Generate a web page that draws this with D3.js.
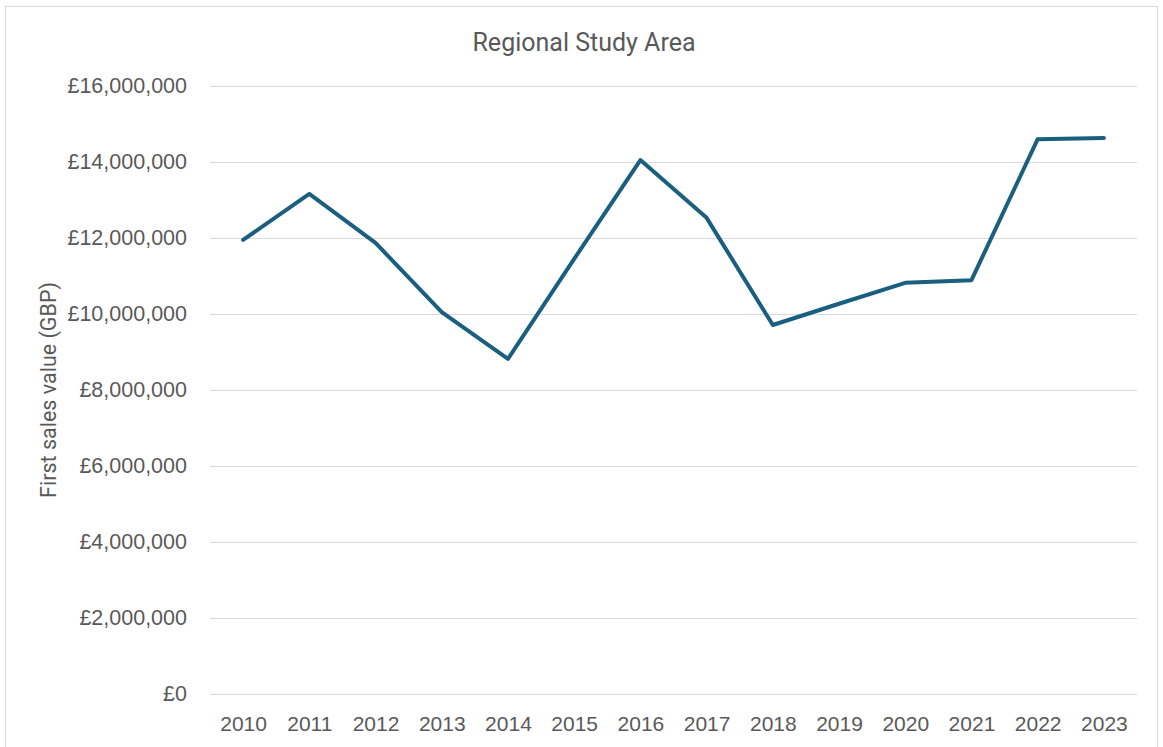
<!DOCTYPE html>
<html>
<head>
<meta charset="utf-8">
<script src="https://d3js.org/d3.v7.min.js"></script>
<style>
  html, body { margin: 0; padding: 0; background: #fff; }
  svg { display: block; font-family: "Roboto", sans-serif; }
</style>
</head>
<body>
<svg id="chart" width="1163" height="747"></svg>
<script>
  // data
  const years = ["2010", "2011", "2012", "2013", "2014", "2015", "2016",
                 "2017", "2018", "2019", "2020", "2021", "2022", "2023"];
  const firstSalesValue = [11950000, 13160000, 11870000, 10050000, 8820000, 11450000, 14050000,
                           12530000, 9710000, 10270000, 10820000, 10890000, 14600000, 14630000];
  const yTicks = [0, 2000000, 4000000, 6000000, 8000000, 10000000, 12000000, 14000000, 16000000];

  const svg = d3.select("#chart");
  const margin = { top: 86, right: 26, bottom: 53, left: 210 };
  const width = 1163, height = 747;

  // chart frame
  svg.append("rect")
    .attr("x", 5.5).attr("y", 6.5)
    .attr("width", 1152).attr("height", 760)
    .attr("fill", "#fff").attr("stroke", "#d9d9d9").attr("stroke-width", 1);

  const x = d3.scalePoint()
    .domain(years)
    .range([margin.left, width - margin.right])
    .padding(0.5);

  const y = d3.scaleLinear()
    .domain([0, 16000000])
    .range([height - margin.bottom, margin.top]);

  const gbp = d => "£" + d3.format(",")(d);

  // gridlines + y labels
  const yAxis = svg.append("g")
    .attr("transform", `translate(${margin.left},0)`)
    .call(d3.axisLeft(y).tickValues(yTicks).tickFormat(gbp)
      .tickSize(-(width - margin.left - margin.right)).tickPadding(23));
  yAxis.select(".domain").remove();
  yAxis.selectAll(".tick line").attr("stroke", "#d9d9d9").attr("stroke-width", 1);
  yAxis.selectAll(".tick text").attr("fill", "#595959").attr("font-size", 21.5);

  // x labels
  const xAxis = svg.append("g")
    .attr("transform", `translate(0,${height - margin.bottom})`)
    .call(d3.axisBottom(x).tickSize(0).tickPadding(22));
  xAxis.select(".domain").remove();
  xAxis.selectAll(".tick text").attr("fill", "#595959").attr("font-size", 21);

  // series line
  const line = d3.line()
    .x((d, i) => x(years[i]))
    .y(d => y(d));

  svg.append("path")
    .datum(firstSalesValue)
    .attr("d", line)
    .attr("fill", "none")
    .attr("stroke", "#1a5f7f")
    .attr("stroke-width", 4)
    .attr("stroke-linejoin", "round")
    .attr("stroke-linecap", "round");

  // title
  svg.append("text")
    .attr("x", 584).attr("y", 51)
    .attr("text-anchor", "middle")
    .attr("fill", "#595959")
    .attr("font-size", 25)
    .text("Regional Study Area");

  // y axis title
  svg.append("text")
    .attr("transform", `translate(56,${y(8000000)}) rotate(-90)`)
    .attr("text-anchor", "middle")
    .attr("fill", "#595959")
    .attr("font-size", 21.5)
    .text("First sales value (GBP)");
</script>
</body>
</html>
